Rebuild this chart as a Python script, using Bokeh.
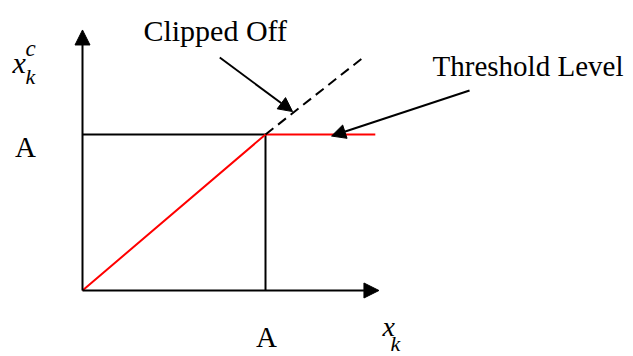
from bokeh.plotting import figure
from bokeh.models import Range1d, Arrow, NormalHead, ColumnDataSource
from bokeh.core.properties import value
from bokeh.embed import file_html
from bokeh.resources import INLINE

# ---- data (A = threshold level = 1) ----
A = 1.0
input_x = [0.0, 1.0, 1.6]          # input amplitude x_k
clipped_y = [0.0, 1.0, 1.0]        # clipped output x_k^c
unclipped_x = [1.0, 1.53]          # part of the linear response that is clipped off
unclipped_y = [1.0, 1.49]
axis_x_max = 1.62
axis_y_max = 1.67
clip_arrow = dict(x_start=0.75, y_start=1.494, x_end=1.148, y_end=1.147)
thresh_arrow = dict(x_start=2.115, y_start=1.282, x_end=1.361, y_end=0.99)

# ---- layout ----
SERIF = value("Liberation Serif")
p = figure(width=633, height=356, x_range=Range1d(-0.4481, 3.0109),
           y_range=Range1d(-0.4231, 1.859), toolbar_location=None,
           output_backend="svg", min_border=0, x_axis_location=None,
           y_axis_location=None, outline_line_color=None)
p.grid.visible = False
p.background_fill_color = "white"
p.border_fill_color = "white"

# axes with arrowheads
for xs, ys, xe, ye in [(0, 0, axis_x_max, 0), (0, 0, 0, axis_y_max)]:
    p.add_layout(Arrow(x_start=xs, y_start=ys, x_end=xe, y_end=ye, line_width=2,
                       line_color="black",
                       end=NormalHead(size=15, fill_color="black", line_color="black",
                                      line_width=1)))

# box lines at level A
p.line([0, A], [A, A], line_color="black", line_width=2)
p.line([A, A], [0, A], line_color="black", line_width=2)

# clipped characteristic (red)
p.line(input_x, clipped_y, line_color="#ff0000", line_width=2)

# clipped-off part (dashed)
p.line(unclipped_x, unclipped_y, line_color="black", line_width=2, line_dash="10 6")

# annotation arrows
for d in (clip_arrow, thresh_arrow):
    p.add_layout(Arrow(**d, line_width=2, line_color="black",
                       end=NormalHead(size=14, fill_color="black", line_color="black",
                                      line_width=1)))

# texts
def txt(x, y, s, size, style="normal", align="left"):
    src = ColumnDataSource(dict(x=[x], y=[y], t=[s]))
    p.text(x="x", y="y", text="t", source=src, text_font=SERIF,
           text_font_size=size, text_font_style=style, text_align=align,
           text_baseline="alphabetic", text_color="black")

txt(0.333, 1.667, "Clipped Off", "30px")
txt(1.913, 1.442, "Threshold Level", "29px")
txt(-0.311, 0.917, "A", "29px", align="center")
txt(1.005, -0.301, "A", "29px", align="center")
# y label x_k^c
txt(-0.383, 1.462, "x", "30px", "italic")
txt(-0.311, 1.551, "c", "23px", "italic")
txt(-0.311, 1.372, "k", "22px", "italic")
# x label x_k
txt(1.639, -0.23, "x", "28px", "italic")
txt(1.683, -0.34, "k", "22px", "italic")

open("out.html", "w").write(file_html(p, INLINE))
